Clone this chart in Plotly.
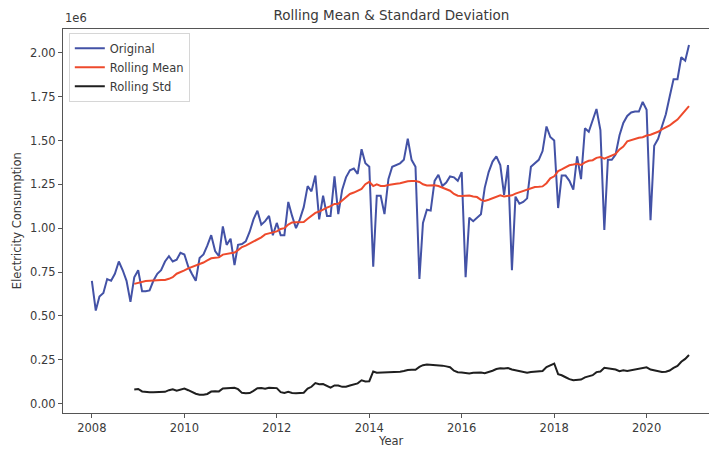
import pandas as pd
import plotly.graph_objects as go

# Monthly electricity consumption, Jan 2008 - Dec 2020 (units of 1e6)
start_month = "2008-01-01"
consumption_e6 = [
    # 2008
    0.70, 0.53, 0.61, 0.63, 0.71, 0.70, 0.74, 0.81, 0.76, 0.70, 0.58, 0.72,
    # 2009
    0.76, 0.64, 0.64, 0.645, 0.70, 0.74, 0.76, 0.81, 0.84, 0.81, 0.82, 0.86,
    # 2010
    0.85, 0.78, 0.74, 0.70, 0.83, 0.85, 0.90, 0.96, 0.87, 0.84, 1.01, 0.905,
    # 2011
    0.94, 0.79, 0.905, 0.91, 0.925, 0.98, 1.05, 1.10, 1.02, 1.04, 1.07, 0.96,
    # 2012
    1.03, 0.96, 0.96, 1.15, 1.07, 1.00, 1.05, 1.12, 1.24, 1.21, 1.30, 1.05,
    # 2013
    1.185, 1.07, 1.07, 1.295, 1.08, 1.22, 1.29, 1.33, 1.34, 1.31, 1.45, 1.37,
    # 2014
    1.35, 0.78, 1.185, 1.185, 1.08, 1.28, 1.35, 1.36, 1.37, 1.39, 1.51, 1.39,
    # 2015
    1.35, 0.71, 1.03, 1.105, 1.10, 1.27, 1.305, 1.24, 1.26, 1.295, 1.29, 1.27,
    # 2016
    1.32, 0.72, 1.06, 1.04, 1.06, 1.08, 1.23, 1.32, 1.38, 1.41, 1.36, 1.19,
    # 2017
    1.36, 0.76, 1.18, 1.14, 1.15, 1.17, 1.35, 1.37, 1.39, 1.44, 1.58, 1.52,
    # 2018
    1.50, 1.115, 1.30, 1.30, 1.27, 1.22, 1.41, 1.28, 1.57, 1.55, 1.62, 1.68,
    # 2019
    1.56, 0.99, 1.39, 1.39, 1.42, 1.53, 1.60, 1.64, 1.66, 1.665, 1.665, 1.72,
    # 2020
    1.675, 1.045, 1.47, 1.51, 1.58, 1.65, 1.75, 1.85, 1.85, 1.975, 1.955, 2.045,
]
window = 12

y_ticks_e6 = [0.00, 0.25, 0.50, 0.75, 1.00, 1.25, 1.50, 1.75, 2.00]
x_tick_years = [2008, 2010, 2012, 2014, 2016, 2018, 2020]

dates = pd.date_range(start_month, periods=len(consumption_e6), freq="MS")
series = pd.Series([v * 1e6 for v in consumption_e6], index=dates)
rolling_mean = series.rolling(window).mean()
rolling_std = series.rolling(window).std()

BLUE = "#4352a6"
RED = "#ee4a2c"
BLACK = "#1f1f1f"
TEXT = "#3a3a3a"
FONT = "DejaVu Sans, Verdana, sans-serif"

fig = go.Figure()
fig.add_trace(go.Scatter(x=dates, y=series, mode="lines", name="Original",
                         line=dict(color=BLUE, width=2)))
fig.add_trace(go.Scatter(x=dates, y=rolling_mean, mode="lines", name="Rolling Mean",
                         line=dict(color=RED, width=2)))
fig.add_trace(go.Scatter(x=dates, y=rolling_std, mode="lines", name="Rolling Std",
                         line=dict(color=BLACK, width=2)))

fig.update_layout(
    width=709, height=450,
    margin=dict(l=63, r=0, t=29, b=37),
    paper_bgcolor="white", plot_bgcolor="white",
    font=dict(family=FONT, size=11.5, color=TEXT),
    title=dict(text="Rolling Mean & Standard Deviation", x=0.552, xanchor="center",
               y=0.966, yanchor="middle", font=dict(size=13.5, color=TEXT)),
    showlegend=True,
    legend=dict(x=0.009, y=0.99, xanchor="left", yanchor="top",
                bgcolor="rgba(255,255,255,0.9)", bordercolor="#d6d6d6", borderwidth=1,
                font=dict(size=11.5, color=TEXT), tracegroupgap=0),
)

fig.update_xaxes(
    range=["2007-05-18", "2021-05-08"],
    tickvals=[pd.Timestamp(f"{y}-01-01") for y in x_tick_years],
    ticktext=[str(y) for y in x_tick_years],
    showgrid=False, zeroline=False,
    showline=True, linecolor="#555555", linewidth=1, mirror=True,
    ticks="outside", ticklen=4, tickcolor="#555555",
    tickfont=dict(size=11.5, color=TEXT),
)
fig.update_yaxes(
    range=[-0.054e6, 2.136e6],
    tickvals=[v * 1e6 for v in y_ticks_e6],
    ticktext=[f"{v:.2f}" for v in y_ticks_e6],
    showgrid=False, zeroline=False,
    showline=True, linecolor="#555555", linewidth=1, mirror=False,
    ticks="outside", ticklen=4, tickcolor="#555555",
    tickfont=dict(size=11.5, color=TEXT),
)

fig.add_annotation(text="Year", xref="paper", yref="paper", x=0.5077, y=-0.072,
                   xanchor="center", yanchor="middle", showarrow=False,
                   font=dict(size=11.5, color=TEXT))
fig.add_annotation(text="Electricity Consumption", xref="paper", yref="paper",
                   x=-0.071, y=0.5, xanchor="center", yanchor="middle",
                   textangle=-90, showarrow=False, font=dict(size=11.5, color=TEXT))
fig.add_annotation(text="1e6", xref="paper", yref="paper", x=0.0, y=1.0,
                   xanchor="left", yanchor="bottom", yshift=2, showarrow=False,
                   font=dict(size=11.5, color=TEXT))

fig.write_html("out.html")
